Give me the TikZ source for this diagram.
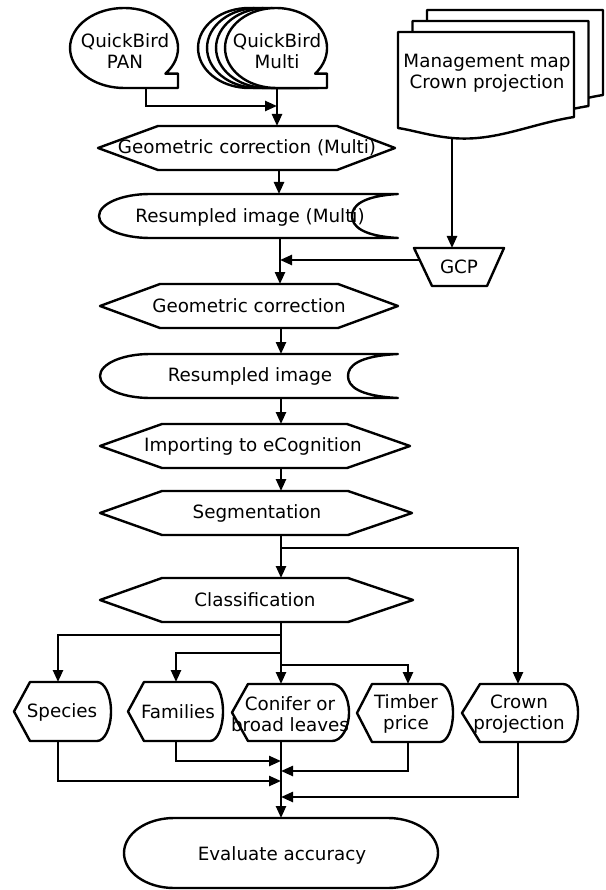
\documentclass[tikz,border=0pt]{standalone}
\usepackage{fontspec}
\setmainfont{DejaVu Sans}
\usetikzlibrary{arrows.meta}
\begin{document}
\begin{tikzpicture}[x=1pt,y=-1pt,
  shp/.style={draw=black,fill=white,line width=2.4pt,line join=round},
  lbl/.style={inner sep=0pt,align=center,font=\fontsize{18.3}{21.5}\selectfont},
  con/.style={line width=2.4pt},
  arr/.style={con,-{Triangle[length=12pt,width=10pt]}}]
\useasboundingbox[fill=white] (0,0) rectangle (605,890);

% ---------- QuickBird PAN (tape)
\draw[shp] (165.4,73.7) arc[start angle=-40,end angle=270,x radius=54pt,y radius=40pt]
  -- (178,88) -- (178,73.7) -- cycle;
\node[lbl] (pan) at (125,51) {QuickBird\\PAN};
\coordinate (pan-s) at (146,88);

% ---------- QuickBird Multi (stack of tapes)
\foreach \cx in {249,258,267,276} {
  \draw[shp] ({\cx+39.1},73.7) arc[start angle=-40,end angle=270,x radius=51pt,y radius=40pt]
    -- ({\cx+51},88) -- ({\cx+51},73.7) -- cycle;
}
\node[lbl] (multi) at (277,51) {QuickBird\\Multi};
\coordinate (multi-s) at (277,88);

% ---------- Management map (stack of documents)
\foreach \dx/\dy in {29/-22,14.5/-11,0/0} {
  \begin{scope}[shift={(\dx,\dy)}]
    \draw[shp] (398,32) -- (574,32) -- (574,117)
      .. controls (530,124) and (495,142) .. (452,138)
      .. controls (430,136) and (412,130) .. (398,128) -- cycle;
  \end{scope}
}
\node[lbl] (map) at (487,73) {Management map\\Crown projection};
\coordinate (map-s) at (452,138);

% ---------- GCP (manual operation)
\draw[shp] (414,248) -- (504,248) -- (487,286) -- (432,286) -- cycle;
\node[lbl] (gcp) at (459,267) {GCP};
\coordinate (gcp-n) at (452,248);
\coordinate (gcp-w) at (419.7,260);

% ---------- Geometric correction (Multi)
\draw[shp] (98,148) -- (158,126) -- (337,126) -- (395,148) -- (337,170) -- (158,170) -- cycle;
\node[lbl] (gcm) at (247,148) {Geometric correction (Multi)};
\coordinate (gcm-n) at (277,126);
\coordinate (gcm-s) at (279,170);

% ---------- Resumpled image (Multi)
\draw[shp] (150,194) -- (398,194) .. controls (362,196) and (352,206) .. (352,216)
  .. controls (352,226) and (362,236) .. (398,238) -- (150,238)
  arc[start angle=270,end angle=90,x radius=51pt,y radius=22pt] -- cycle;
\node[lbl] (rim) at (250,217) {Resumpled image (Multi)};
\coordinate (rim-n) at (279,194);
\coordinate (rim-s) at (280,238);
\coordinate (join1) at (280,260);

% ---------- Geometric correction
\draw[shp] (100,306) -- (160,284) -- (338,284) -- (398,306) -- (338,328) -- (160,328) -- cycle;
\node[lbl] (gc) at (249,306) {Geometric correction};
\coordinate (gc-n) at (280,284);
\coordinate (gc-s) at (281,328);

% ---------- Resumpled image
\draw[shp] (150,354) -- (398,354) .. controls (358,356) and (348,366) .. (348,376)
  .. controls (348,386) and (358,396) .. (398,398) -- (150,398)
  arc[start angle=270,end angle=90,x radius=50pt,y radius=22pt] -- cycle;
\node[lbl] (ri) at (250,376) {Resumpled image};
\coordinate (ri-n) at (281,354);
\coordinate (ri-s) at (281,398);

% ---------- Importing to eCognition
\draw[shp] (100,446) -- (162,424) -- (347,424) -- (410,446) -- (347,468) -- (162,468) -- cycle;
\node[lbl] (imp) at (253,446) {Importing to eCognition};
\coordinate (imp-n) at (281,424);
\coordinate (imp-s) at (281,468);

% ---------- Segmentation
\draw[shp] (100,513) -- (162,491) -- (348,491) -- (412,513) -- (348,535) -- (162,535) -- cycle;
\node[lbl] (seg) at (257,513) {Segmentation};
\coordinate (seg-n) at (281,491);
\coordinate (seg-s) at (281,535);
\coordinate (join2) at (281,548);

% ---------- Classification
\draw[shp] (100,600) -- (162,578) -- (348,578) -- (413,600) -- (348,622) -- (162,622) -- cycle;
\node[lbl] (cls) at (255,600) {Classification};
\coordinate (cls-n) at (281,578);
\coordinate (cls-s) at (281,622);

% ---------- bottom display shapes
\draw[shp] (14,711.5) -- (30,682) -- (97,682) arc[start angle=90,end angle=-90,x radius=14pt,y radius=29.5pt] -- (30,741) -- cycle;
\node[lbl] (spc) at (62,712) {Species};
\draw[shp] (128,711.5) -- (144,682) -- (210,682) arc[start angle=90,end angle=-90,x radius=13pt,y radius=29.5pt] -- (144,741) -- cycle;
\node[lbl] (fam) at (178,712) {Families};
\draw[shp] (232,712.5) -- (248,684) -- (332,684) arc[start angle=90,end angle=-90,x radius=17pt,y radius=28.5pt] -- (248,741) -- cycle;
\node[lbl] (con) at (290,714) {Conifer or\\broad leaves};
\draw[shp] (357,713) -- (372,684) -- (440,684) arc[start angle=90,end angle=-90,x radius=13pt,y radius=29pt] -- (372,742) -- cycle;
\node[lbl] (tim) at (406,714) {Timber\\price};
\draw[shp] (462,713) -- (480,684) -- (563,684) arc[start angle=90,end angle=-90,x radius=15pt,y radius=29pt] -- (480,742) -- cycle;
\node[lbl] (crn) at (519,714) {Crown\\projection};

\coordinate (spc-n) at (58,682);  \coordinate (spc-s) at (58,741);
\coordinate (fam-n) at (176,682); \coordinate (fam-s) at (176,741);
\coordinate (con-n) at (281,684); \coordinate (con-s) at (281,741);
\coordinate (tim-n) at (408,684); \coordinate (tim-s) at (408,742);
\coordinate (crn-n) at (518,684); \coordinate (crn-s) at (518,742);

% ---------- Evaluate accuracy (terminator)
\draw[shp] (174,818) -- (388,818) arc[start angle=90,end angle=-90,x radius=50pt,y radius=35pt]
  -- (174,888) arc[start angle=270,end angle=90,x radius=50pt,y radius=35pt] -- cycle;
\node[lbl] (eva) at (282,855) {Evaluate accuracy};
\coordinate (eva-n) at (281,818);

% ---------- connectors
\draw[arr] (pan-s) |- (multi-s |- 0,106);
\draw[arr] (multi-s) -- (gcm-n);
\draw[arr] (gcm-s) -- (rim-n);
\draw[arr] (map-s) -- (gcp-n);
\draw[arr] (gcp-w) -- (join1);
\draw[arr] (rim-s) -- (gc-n);
\draw[arr] (gc-s) -- (ri-n);
\draw[arr] (ri-s) -- (imp-n);
\draw[arr] (imp-s) -- (seg-n);
\draw[arr] (seg-s) -- (cls-n);
\draw[arr] (join2) -| (crn-n);
\draw[arr] (cls-s) -- (con-n);
\draw[arr] (cls-s |- 0,635) -| (spc-n);
\draw[arr] (cls-s |- 0,653) -| (fam-n);
\draw[arr] (cls-s |- 0,665) -| (tim-n);
\draw[arr] (con-s) -- (eva-n);
\draw[arr] (fam-s) |- (con-s |- 0,761);
\draw[arr] (tim-s) |- (con-s |- 0,771);
\draw[arr] (spc-s) |- (con-s |- 0,781);
\draw[arr] (crn-s) |- (con-s |- 0,797);
\end{tikzpicture}
\end{document}
